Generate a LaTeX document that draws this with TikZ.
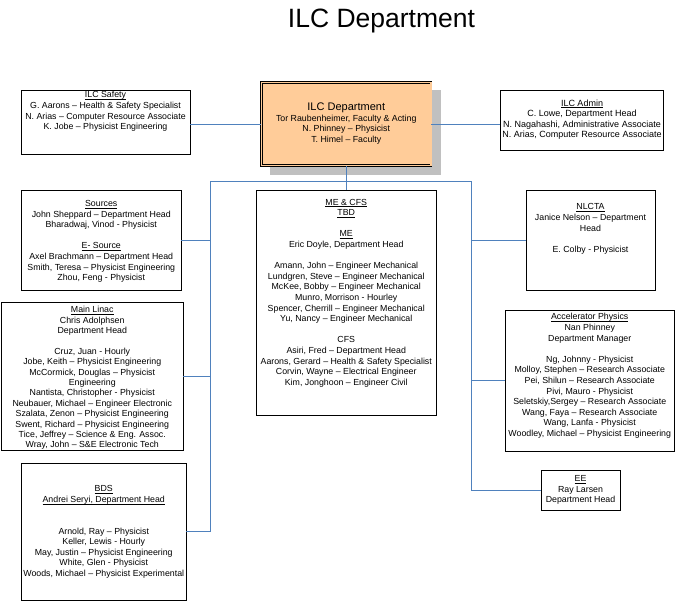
\documentclass[tikz,border=0pt]{standalone}
\usepackage{fontspec}
\setmainfont{Liberation Sans}
\newcommand{\ul}[1]{\underline{\smash{#1}}\vphantom{#1}}
\definecolor{conncol}{HTML}{4F81BD}
\definecolor{peach}{HTML}{FFCC99}
\definecolor{shadowgray}{HTML}{C0C0C0}
\begin{document}
\begin{tikzpicture}[x=1pt,y=-1pt,
  box/.style={draw=black, line width=0.9pt, fill=white, inner sep=0pt},
  txt/.style={align=center, inner sep=0pt, font=\fontsize{8.8}{10.6}\selectfont},
  conn/.style={draw=conncol, line width=0.8pt}]
\useasboundingbox (0,0) rectangle (676,601);

\node[font=\fontsize{26.5}{30}\selectfont, anchor=base] (title) at (381.5,28) {ILC Department};

% shadow of central box
\fill[shadowgray] (270,90) rectangle (441,175);

% boxes
\node[box, minimum width=168.5pt, minimum height=63.5pt] (safety) at (105.75,122.25) {};
\node[box, minimum width=163pt, minimum height=60pt] (admin) at (582,120.5) {};
\node[box, minimum width=159.5pt, minimum height=99.5pt] (sources) at (101.25,240.25) {};
\node[box, minimum width=181.5pt, minimum height=148pt] (linac) at (92.25,376) {};
\node[box, minimum width=164.5pt, minimum height=136.5pt] (bds) at (103.75,531.75) {};
\node[box, minimum width=179.5pt, minimum height=224.5pt] (me) at (346.25,302.75) {};
\node[box, minimum width=129pt, minimum height=99.5pt] (nlcta) at (590.5,240.25) {};
\node[box, minimum width=168.5pt, minimum height=140.5pt] (accel) at (589.75,380.75) {};
\node[box, minimum width=79pt, minimum height=40pt] (ee) at (580.5,490) {};

% bus coordinates
\coordinate (lb) at (210,181.5);
\coordinate (rb) at (471,181.5);
\coordinate (db) at (346.25,181.5);

% central box
\node[draw=black, line width=0.7pt, double=peach, double distance=1.4pt, fill=peach,
      minimum width=169.5pt, minimum height=83.5pt, inner sep=0pt] (dept) at (346.25,124) {};

% connectors
\draw[conn] (dept.west) -- (dept.west -| safety.east);
\draw[conn] (dept.east) -- (dept.east -| admin.west);
\draw[conn] (dept.south) -- (db);
\draw[conn] (lb) -- (rb);
\draw[conn] (lb) |- (bds.east);
\draw[conn] (sources.east) -- (sources.east -| lb);
\draw[conn] (linac.east) -- (linac.east -| lb);
\draw[conn] (db) -- (me.north);
\draw[conn] (rb) |- (ee.west);
\draw[conn] (nlcta.west) -- (nlcta.west -| rb);
\draw[conn] (accel.west) -- (accel.west -| rb);

% texts
\node[txt] (safetyt) at (105.5,111.5) {\ul{ILC Safety}\\
G. Aarons – Health \& Safety Specialist\\
N. Arias – Computer Resource Associate\\
K. Jobe – Physicist Engineering};

\node[txt] (deptt) at (346.25,123.5) {{\fontsize{11}{11.6}\selectfont ILC Department}\\
Tor Raubenheimer, Faculty \& Acting\\
N. Phinney – Physicist\\
T. Himel – Faculty};

\node[txt, font=\fontsize{9}{10.4}\selectfont] (admint) at (582,119.5) {\ul{ILC Admin}\\
C. Lowe, Department Head\\
N. Nagahashi, Administrative Associate\\
N. Arias, Computer Resource Associate};

\node[txt] (sourcest) at (101.25,241.5) {\ul{Sources}\\
John Sheppard – Department Head\\
Bharadwaj, Vinod - Physicist\\
\mbox{}\\
\ul{E- Source}\\
Axel Brachmann – Department Head\\
Smith, Teresa – Physicist Engineering\\
Zhou, Feng - Physicist};

\node[txt, font=\fontsize{8.8}{10.4}\selectfont] (linact) at (92.25,378) {\ul{Main Linac}\\
Chris Adolphsen\\
Department Head\\
\mbox{}\\
Cruz, Juan - Hourly\\
Jobe, Keith – Physicist Engineering\\
McCormick, Douglas – Physicist\\
Engineering\\
Nantista, Christopher - Physicist\\
Neubauer, Michael – Engineer Electronic\\
Szalata, Zenon – Physicist Engineering\\
Swent, Richard – Physicist Engineering\\
Tice, Jeffrey – Science \& Eng. Assoc.\\
Wray, John – S\&E Electronic Tech};

\node[txt] (bdst) at (103.75,532) {\ul{BDS}\\
\ul{Andrei Seryi, Department Head}\\
\mbox{}\\
\mbox{}\\
Arnold, Ray – Physicist\\
Keller, Lewis - Hourly\\
May, Justin – Physicist Engineering\\
White, Glen - Physicist\\
Woods, Michael – Physicist Experimental};

\node[txt] (met) at (346.25,293) {\ul{ME \& CFS}\\
\ul{TBD}\\
\mbox{}\\
\ul{ME}\\
Eric Doyle, Department Head\\
\mbox{}\\
Amann, John – Engineer Mechanical\\
Lundgren, Steve – Engineer Mechanical\\
McKee, Bobby – Engineer Mechanical\\
Munro, Morrison - Hourley\\
Spencer, Cherrill – Engineer Mechanical\\
Yu, Nancy – Engineer Mechanical\\
\mbox{}\\
CFS\\
Asiri, Fred – Department Head\\
Aarons, Gerard – Health \& Safety Specialist\\
Corvin, Wayne – Electrical Engineer\\
Kim, Jonghoon – Engineer Civil};

\node[txt] (nlctat) at (590.5,229) {\ul{NLCTA}\\
Janice Nelson – Department\\
Head\\
\mbox{}\\
E. Colby - Physicist};

\node[txt] (accelt) at (589.75,376) {\ul{Accelerator Physics}\\
Nan Phinney\\
Department Manager\\
\mbox{}\\
Ng, Johnny - Physicist\\
Molloy, Stephen – Research Associate\\
Pei, Shilun – Research Associate\\
Pivi, Mauro - Physicist\\
Seletskiy,Sergey – Research Associate\\
Wang, Faya – Research Associate\\
Wang, Lanfa - Physicist\\
Woodley, Michael – Physicist Engineering};

\node[txt] (eet) at (580.5,490) {\ul{EE}\\
Ray Larsen\\
Department Head};

\end{tikzpicture}
\end{document}
